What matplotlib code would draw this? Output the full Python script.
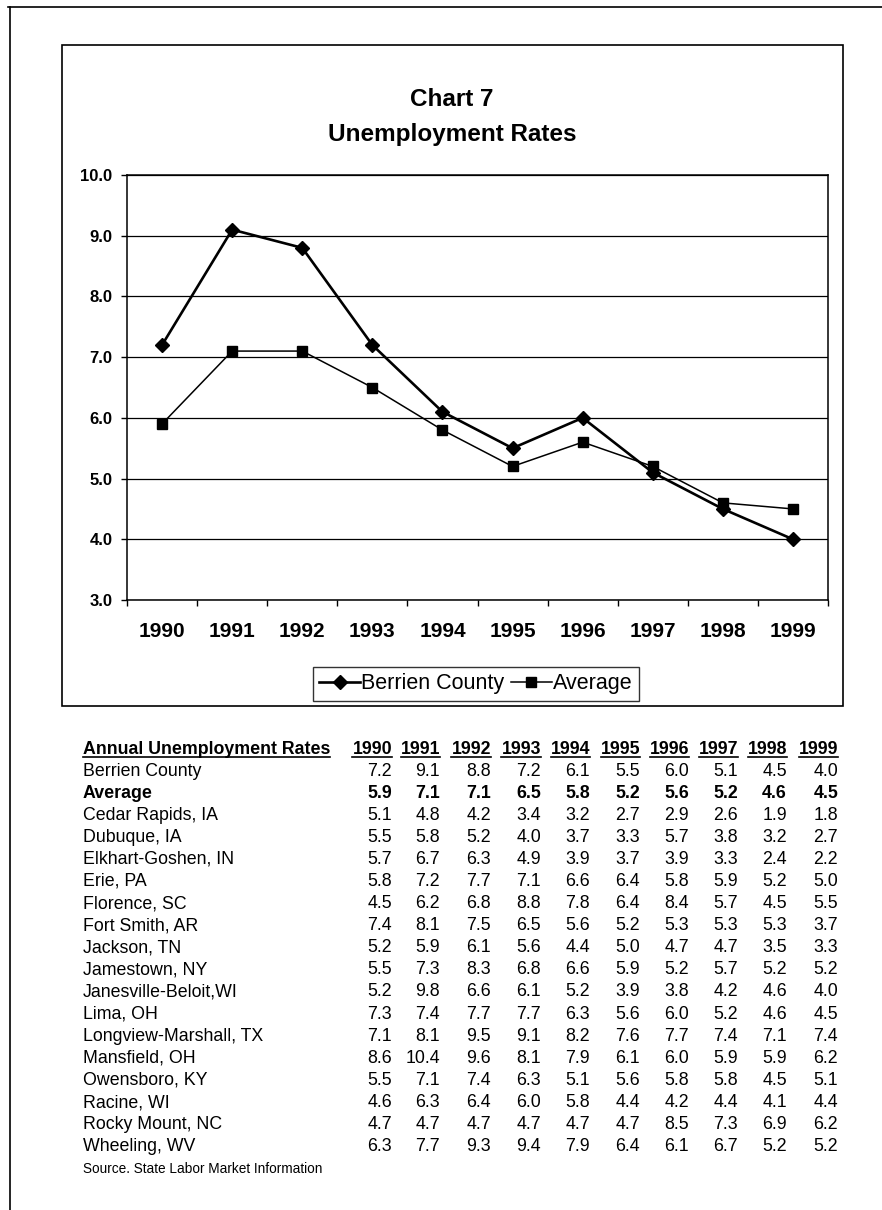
import matplotlib
matplotlib.use("Agg")
import matplotlib.pyplot as plt
from matplotlib.patches import Rectangle
from matplotlib.lines import Line2D

plt.rcParams['font.family'] = ['Liberation Sans', 'DejaVu Sans']

years = [1990, 1991, 1992, 1993, 1994, 1995, 1996, 1997, 1998, 1999]
berrien = [7.2, 9.1, 8.8, 7.2, 6.1, 5.5, 6.0, 5.1, 4.5, 4.0]
average = [5.9, 7.1, 7.1, 6.5, 5.8, 5.2, 5.6, 5.2, 4.6, 4.5]

places = ["Cedar Rapids, IA", "Dubuque, IA", "Elkhart-Goshen, IN", "Erie, PA",
          "Florence, SC", "Fort Smith, AR", "Jackson, TN", "Jamestown, NY",
          "Janesville-Beloit,WI", "Lima, OH", "Longview-Marshall, TX",
          "Mansfield, OH", "Owensboro, KY", "Racine, WI", "Rocky Mount, NC",
          "Wheeling, WV"]
cedar_rapids = [5.1, 4.8, 4.2, 3.4, 3.2, 2.7, 2.9, 2.6, 1.9, 1.8]
dubuque = [5.5, 5.8, 5.2, 4.0, 3.7, 3.3, 5.7, 3.8, 3.2, 2.7]
elkhart = [5.7, 6.7, 6.3, 4.9, 3.9, 3.7, 3.9, 3.3, 2.4, 2.2]
erie = [5.8, 7.2, 7.7, 7.1, 6.6, 6.4, 5.8, 5.9, 5.2, 5.0]
florence = [4.5, 6.2, 6.8, 8.8, 7.8, 6.4, 8.4, 5.7, 4.5, 5.5]
fort_smith = [7.4, 8.1, 7.5, 6.5, 5.6, 5.2, 5.3, 5.3, 5.3, 3.7]
jackson = [5.2, 5.9, 6.1, 5.6, 4.4, 5.0, 4.7, 4.7, 3.5, 3.3]
jamestown = [5.5, 7.3, 8.3, 6.8, 6.6, 5.9, 5.2, 5.7, 5.2, 5.2]
janesville = [5.2, 9.8, 6.6, 6.1, 5.2, 3.9, 3.8, 4.2, 4.6, 4.0]
lima = [7.3, 7.4, 7.7, 7.7, 6.3, 5.6, 6.0, 5.2, 4.6, 4.5]
longview = [7.1, 8.1, 9.5, 9.1, 8.2, 7.6, 7.7, 7.4, 7.1, 7.4]
mansfield = [8.6, 10.4, 9.6, 8.1, 7.9, 6.1, 6.0, 5.9, 5.9, 6.2]
owensboro = [5.5, 7.1, 7.4, 6.3, 5.1, 5.6, 5.8, 5.8, 4.5, 5.1]
racine = [4.6, 6.3, 6.4, 6.0, 5.8, 4.4, 4.2, 4.4, 4.1, 4.4]
rocky_mount = [4.7, 4.7, 4.7, 4.7, 4.7, 4.7, 8.5, 7.3, 6.9, 6.2]
wheeling = [6.3, 7.7, 9.3, 9.4, 7.9, 6.4, 6.1, 6.7, 5.2, 5.2]
place_values = [cedar_rapids, dubuque, elkhart, erie, florence, fort_smith,
                jackson, jamestown, janesville, lima, longview, mansfield,
                owensboro, racine, rocky_mount, wheeling]

W, H = 882, 1210
fig = plt.figure(figsize=(W / 100, H / 100), dpi=100)


def fx(px):
    return px / W


def fy(py):
    return 1 - py / H


# outer page frame (top and left edges only)
fig.add_artist(Line2D([fx(8), fx(882)], [fy(7), fy(7)], color='black', lw=1.2))
fig.add_artist(Line2D([fx(10), fx(10)], [fy(7), fy(1210)], color='black', lw=1.2))

# chart box
fig.add_artist(Rectangle((fx(62), fy(706)), fx(843) - fx(62), fy(45) - fy(706),
                         fill=False, ec='black', lw=1.2))

fig.text(fx(452), fy(100), "Chart 7", ha='center', va='center',
         fontsize=17.5, fontweight='bold')
fig.text(fx(452), fy(134), "Unemployment Rates", ha='center', va='center',
         fontsize=17.5, fontweight='bold')

ax = fig.add_axes([fx(127), fy(600), fx(828) - fx(127), fy(175) - fy(600)])
x = [i + 0.5 for i in range(len(years))]
l1, = ax.plot(x, berrien, color='black', lw=1.9, marker='D', ms=7,
              label='Berrien County')
l2, = ax.plot(x, average, color='black', lw=1.1, marker='s', ms=7,
              label='Average')

ax.set_xlim(0, 10)
ax.set_ylim(3, 10)
ax.set_yticks(range(3, 11))
ax.set_yticklabels(["%.1f" % v for v in range(3, 11)], fontsize=12, fontweight='bold')
ax.yaxis.grid(True, color='black', lw=0.9)
ax.set_axisbelow(True)
ax.tick_params(axis='y', direction='out', length=4.5, width=1, pad=6)

ax.set_xticks(range(0, 11))
ax.set_xticklabels([])
ax.set_xticks(x, minor=True)
ax.set_xticklabels([str(y) for y in years], minor=True, fontsize=15, fontweight='bold')
ax.tick_params(axis='x', which='major', direction='out', length=4.5, width=1)
ax.tick_params(axis='x', which='minor', length=0, pad=16)
for s in ax.spines.values():
    s.set_color('black')
    s.set_linewidth(1.1)

leg = fig.legend(handles=[l1, l2], loc='center', bbox_to_anchor=(fx(476), fy(684)),
                 ncol=2, fontsize=15.5, frameon=True, fancybox=False,
                 handlelength=1.9, handletextpad=0.05, columnspacing=0.3,
                 borderpad=0.3, borderaxespad=0)
leg.get_frame().set_edgecolor('black')
leg.get_frame().set_linewidth(1.0)

# table below the chart
col_right = [392, 440, 491, 541, 590, 640, 689, 738, 787, 838]
label_x = 83
header_y = 749
row0_y = 771
row_step = 22.1
tfs = 12.8

underlined = []
underlined.append(fig.text(fx(label_x), fy(header_y), "Annual Unemployment Rates",
                           ha='left', va='center', fontsize=tfs, fontweight='bold'))
for cx, yr in zip(col_right, years):
    underlined.append(fig.text(fx(cx), fy(header_y), str(yr), ha='right', va='center',
                               fontsize=tfs, fontweight='bold'))

rows = [("Berrien County", berrien, 'normal'), ("Average", average, 'bold')]
rows += [(p, v, 'normal') for p, v in zip(places, place_values)]
for i, (name, vals, wt) in enumerate(rows):
    yy = fy(row0_y + i * row_step)
    fig.text(fx(label_x), yy, name, ha='left', va='center', fontsize=tfs, fontweight=wt)
    for cx, v in zip(col_right, vals):
        fig.text(fx(cx), yy, "%.1f" % v, ha='right', va='center', fontsize=tfs, fontweight=wt)

fig.text(fx(label_x), fy(row0_y + len(rows) * row_step), "Source. State Labor Market Information",
         ha='left', va='center', fontsize=9.8)

# underline the header cells
fig.canvas.draw()
r = fig.canvas.get_renderer()
for t in underlined:
    bb = t.get_window_extent(r)
    yline = bb.y0 + 1
    fig.add_artist(Line2D([bb.x0 / W, bb.x1 / W], [yline / H, yline / H],
                          color='black', lw=1.2))

fig.savefig("out.png", dpi=100)
